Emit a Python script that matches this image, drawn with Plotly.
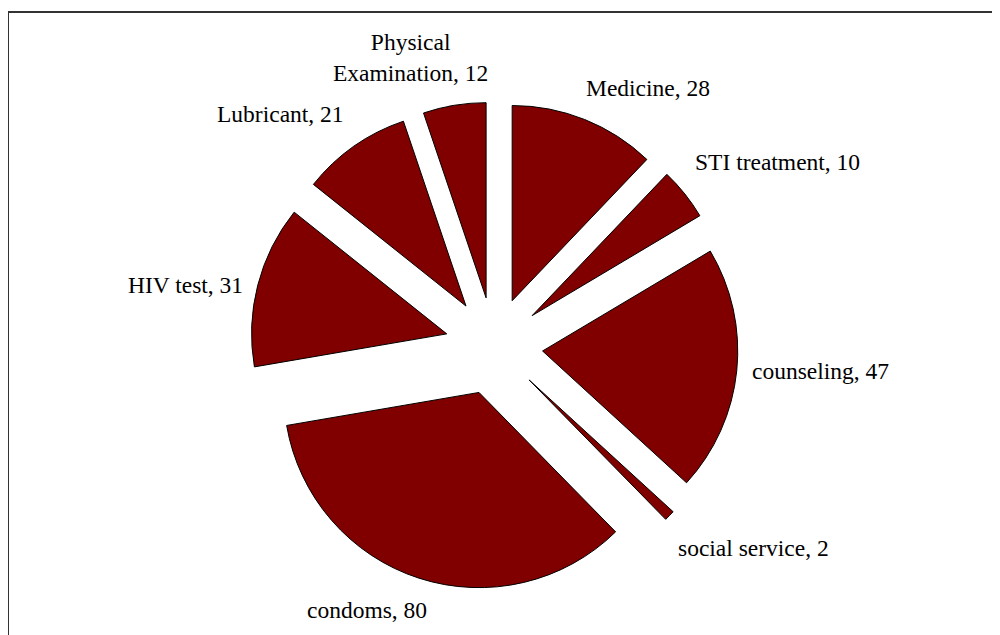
import math
import plotly.graph_objects as go

labels = ["Medicine", "STI treatment", "counseling", "social service",
          "condoms", "HIV test", "Lubricant", "Physical<br>Examination"]
values = [28, 10, 47, 2, 80, 31, 21, 12]

slice_color = "#800000"
pull_frac = 0.25
font_family = "Liberation Serif"
font_size = 23.5

W, H = 992, 627
dom_x = [0.2440, 0.7359]
dom_y = [0.0717, 0.8501]

fig = go.Figure(go.Pie(
    labels=labels,
    values=values,
    sort=False,
    direction="clockwise",
    rotation=0,
    pull=[pull_frac] * len(values),
    marker=dict(colors=[slice_color] * len(values), line=dict(color="#000000", width=1)),
    textinfo="none",
    domain=dict(x=dom_x, y=dom_y),
    automargin=False,
    showlegend=False,
    hoverinfo="label+value",
))

# label placement derived from the pie geometry (slice mid-angles)
cx = (dom_x[0] + dom_x[1]) / 2 * W
cy = (1 - (dom_y[0] + dom_y[1]) / 2) * H
r = min((dom_x[1] - dom_x[0]) * W, (dom_y[1] - dom_y[0]) * H) / 2 / (1 + pull_frac)
R0 = r * (1 + pull_frac)
total = sum(values)
annotations = []
cum = 0
for lab, v in zip(labels, values):
    mid = (cum + v / 2) / total * 2 * math.pi
    cum += v
    ux, uy = math.sin(mid), -math.cos(mid)
    ox, oy = cx + R0 * ux, cy + R0 * uy
    if ux > 0.3:
        xa, px = "left", ox + 22 * (ux - 0.4)
    elif ux < -0.5:
        xa, px = "right", ox + 13 * ux
    elif ux < -0.25:
        xa, px = "right", ox + 10
    else:
        xa, px = "center", ox + 270 * ux
    if uy < -0.5:
        ya, py = "bottom", oy - 17
    elif uy > 0.5:
        ya, py = "top", oy + 17
    else:
        ya, py = "middle", oy
    annotations.append(dict(
        text=f"{lab}, {v}", x=px / W, y=1 - py / H, xref="paper", yref="paper",
        xanchor=xa, yanchor=ya, align="center", showarrow=False,
        font=dict(family=font_family, size=font_size, color="#000000"),
    ))

border = dict(color="#333333", width=2)
fig.update_layout(
    width=W, height=H,
    margin=dict(l=0, r=0, t=0, b=0, autoexpand=False),
    paper_bgcolor="white",
    plot_bgcolor="white",
    annotations=annotations,
    shapes=[
        dict(type="line", xref="paper", yref="paper",
             x0=0.0, x1=1.05, y0=1 - 4 / H, y1=1 - 4 / H, line=border),
        dict(type="line", xref="paper", yref="paper",
             x0=0.0, x1=0.0, y0=-0.05, y1=1 - 4 / H, line=border),
    ],
)

fig.write_html("out.html")
